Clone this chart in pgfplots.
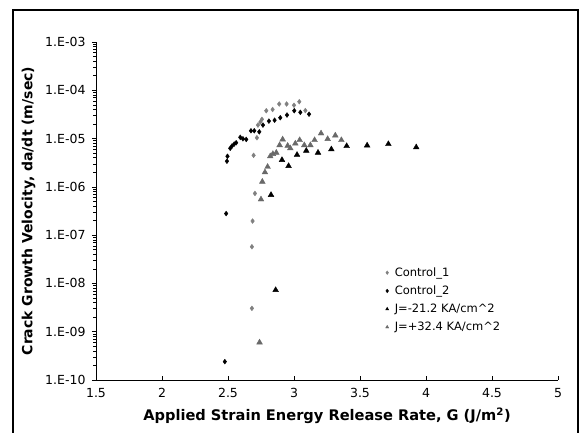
\documentclass[border=0pt]{standalone}
\usepackage{fontspec}
\setmainfont{DejaVu Sans}
\usepackage{pgfplots}
\pgfplotsset{compat=1.18}
\definecolor{CtrlGray}{RGB}{128,128,128}
\definecolor{PlusGray}{RGB}{105,105,105}

\begin{document}
\begin{tikzpicture}
\useasboundingbox (-96pt,-53pt) rectangle (491pt,380pt);
\draw[line width=1.4pt] (-83pt,-80pt) -- (-83pt,370pt) -- (482pt,370pt) -- (482pt,-80pt);
\begin{axis}[
  at={(0pt,0pt)}, anchor=south west,
  scale only axis,
  width=462pt, height=338pt,
  xmin=1.5, xmax=5,
  ymode=log, ymin=1e-10, ymax=1e-3,
  xtick={1.5,2,...,5},
  xticklabels={1.5,2,2.5,3,3.5,4,4.5,5},
  ytick={1e-10,1e-9,1e-8,1e-7,1e-6,1e-5,1e-4,1e-3},
  yticklabels={1.E-10,1.E-09,1.E-08,1.E-07,1.E-06,1.E-05,1.E-04,1.E-03},
  minor tick num=0, minor ytick={},
  axis x line*=bottom, axis y line*=left,
  axis line style={black, line width=0.8pt, -},
  x tick style={black, line width=0.6pt}, xtick align=inside,
  y tick style={black, line width=0.6pt}, ytick align=outside,
  major tick length=4pt,
  tick label style={font=\fontsize{12.5}{14}\selectfont},
  xticklabel style={yshift=-5pt},
  yticklabel style={xshift=-3pt},
  xlabel={\textbf{Applied Strain Energy Release Rate, G (J/m\textsuperscript{2})}},
  ylabel={\textbf{Crack Growth Velocity, da/dt (m/sec)}},
  xlabel style={font=\fontsize{14.6}{16}\selectfont, yshift=-3pt},
  ylabel style={font=\fontsize{14}{16}\selectfont, yshift=3pt},
  legend style={draw=none, fill=none, at={(0.62,0.345)}, anchor=north west,
    font=\fontsize{11.5}{13.5}\selectfont, row sep=4pt, column sep=4pt,
    legend cell align=left},
  legend image code/.code={\draw[#1, mark size=1.8pt] plot coordinates {(0cm,0cm)};},
  clip=false,
]
\addplot[only marks, mark=diamond*, mark size=2.4pt, color=CtrlGray] coordinates {
(2.681,3.05e-9)(2.681,5.75e-8)(2.686,1.96e-7)(2.704,7.3e-7)(2.694,4.5e-6)
(2.719,1.04e-5)(2.727,1.9e-5)(2.745,2.2e-5)(2.757,2.5e-5)(2.790,3.77e-5)
(2.838,4.0e-5)(2.888,5.2e-5)(2.944,5.2e-5)(3.000,4.9e-5)(3.040,5.8e-5)
(3.086,3.8e-5)};
\addlegendentry{Control\_1}
\addplot[only marks, mark=diamond*, mark size=2.4pt, color=black] coordinates {
(2.476,2.4e-10)(2.486,2.8e-7)(2.492,3.4e-6)(2.496,4.3e-6)(2.517,6.3e-6)
(2.530,7.0e-6)(2.547,7.7e-6)(2.562,8.2e-6)(2.593,1.06e-5)(2.613,9.9e-6)
(2.638,9.6e-6)(2.674,1.45e-5)(2.699,1.45e-5)(2.737,1.38e-5)(2.765,1.9e-5)
(2.810,2.3e-5)(2.853,2.4e-5)(2.896,2.7e-5)(2.947,3.07e-5)(3.002,3.77e-5)
(3.048,3.5e-5)(3.114,3.2e-5)};
\addlegendentry{Control\_2}
\addplot[only marks, mark=triangle*, mark size=3.3pt, color=black] coordinates {
(2.861,7.3e-9)(2.826,6.8e-7)(2.909,3.6e-6)(2.959,2.7e-6)(3.023,4.6e-6)
(3.093,5.6e-6)(3.182,5.1e-6)(3.283,6.0e-6)(3.399,7.0e-6)(3.554,7.2e-6)
(3.715,7.7e-6)(3.926,6.6e-6)};
\addlegendentry{J=-21.2 KA/cm\^{}2}
\addplot[only marks, mark=triangle*, mark size=3.3pt, color=PlusGray] coordinates {
(2.739,6.0e-10)(2.750,5.5e-7)(2.760,1.28e-6)(2.780,2.0e-6)(2.800,2.6e-6)
(2.820,4.3e-6)(2.840,4.8e-6)(2.866,5.1e-6)(2.891,7.3e-6)(2.914,9.6e-6)
(2.952,7.1e-6)(2.972,6.3e-6)(3.010,7.9e-6)(3.043,9.3e-6)(3.078,7.3e-6)
(3.124,7.3e-6)(3.156,9.3e-6)(3.205,1.28e-5)(3.255,9.8e-6)(3.313,1.16e-5)
(3.359,9.3e-6)};
\addlegendentry{J=+32.4 KA/cm\^{}2}
\end{axis}
\end{tikzpicture}
\end{document}
